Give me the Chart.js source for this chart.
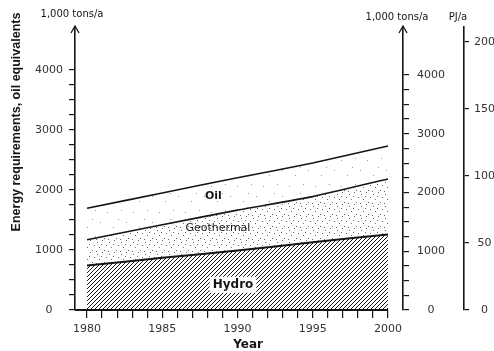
<!DOCTYPE html>
<html>
<head>
<meta charset="utf-8">
<script src="https://cdn.jsdelivr.net/npm/chart.js@4"></script>
<style>
  html, body { margin: 0; padding: 0; background: #fff; }
  #wrap { width: 494px; height: 351px; position: relative; }
</style>
</head>
<body>
<div id="wrap"><canvas id="energyChart"></canvas></div>
<script>
// values (upper edge of each band, 1,000 tons/a)
const years = [1980, 1985, 1990, 1995, 2000];
const hydroTop = [740, 870, 990, 1130, 1260];
const geothermalTop = [1170, 1420, 1665, 1890, 2185];
const oilTop = [1695, 1950, 2205, 2450, 2735];

const tonsLabels = [0, 1000, 2000, 3000, 4000];
const pjLabels = [0, 50, 100, 150, 200];
const yearLabels = [1980, 1985, 1990, 1995, 2000];

const FONT = '"DejaVu Sans", sans-serif';
const INK = '#151515';

function toPoints(values) {
    return years.map((yr, i) => ({ x: yr, y: values[i] }));
}

// diagonal hatching for hydro
function makeHatch() {
    const c = document.createElement('canvas');
    c.width = 4; c.height = 4;
    const g = c.getContext('2d');
    g.fillStyle = '#fff';
    g.fillRect(0, 0, 4, 4);
    g.strokeStyle = '#1a1a1a';
    g.lineWidth = 1;
    g.beginPath();
    g.moveTo(0, 4); g.lineTo(4, 0);
    g.moveTo(-1, 1); g.lineTo(1, -1);
    g.moveTo(3, 5); g.lineTo(5, 3);
    g.stroke();
    return g.createPattern(c, 'repeat');
}

// stipple for the geothermal / oil bands
function makeDots(size, dots, color) {
    const c = document.createElement('canvas');
    c.width = size; c.height = size;
    const g = c.getContext('2d');
    g.fillStyle = '#fff';
    g.fillRect(0, 0, size, size);
    g.fillStyle = color;
    dots.forEach(([x, y]) => g.fillRect(x, y, 1, 1));
    return g.createPattern(c, 'repeat');
}

const hatch = makeHatch();
const geoDots = makeDots(12, [[1, 2], [6, 0], [10, 5], [3, 7], [8, 10], [0, 11], [5, 4]], '#666');
const oilDots = makeDots(26, [[3, 4], [17, 2], [22, 14], [9, 19], [14, 11]], '#999');

function stepTicks(from, to, step) {
    const out = [];
    for (let v = from; v <= to; v += step) out.push({ value: v });
    return out;
}

const annotations = {
    id: 'annotations',
    afterDraw(chart) {
        const { ctx, scales } = chart;
        const x = scales.x, y = scales.y, yT = scales.yTons, yP = scales.yPJ;
        ctx.save();
        ctx.strokeStyle = INK;
        ctx.fillStyle = INK;

        // baseline from the left axis to 2000
        ctx.lineWidth = 1.8;
        ctx.beginPath();
        ctx.moveTo(y.right, y.getPixelForValue(0));
        ctx.lineTo(x.getPixelForValue(2000), y.getPixelForValue(0));
        ctx.stroke();

        // arrow heads on the two tons axes
        ctx.lineWidth = 1.3;
        [y.right, yT.left].forEach(ax => {
            const top = chart.chartArea.top - 1;
            ctx.beginPath();
            ctx.moveTo(ax - 4, top + 7);
            ctx.lineTo(ax, top);
            ctx.lineTo(ax + 4, top + 7);
            ctx.stroke();
        });

        // band labels
        ctx.textBaseline = 'middle';
        ctx.textAlign = 'center';
        ctx.font = 'bold 11px ' + FONT;
        ctx.fillText('Oil', x.getPixelForValue(1988.4), y.getPixelForValue(1900));
        ctx.font = '11px ' + FONT;
        ctx.fillText('Geothermal', x.getPixelForValue(1988.7), y.getPixelForValue(1370));
        const hx = x.getPixelForValue(1989.7), hy = y.getPixelForValue(420);
        ctx.font = 'bold 12px ' + FONT;
        const hw = ctx.measureText('Hydro').width;
        ctx.fillStyle = '#fff';
        ctx.fillRect(hx - hw / 2 - 3, hy - 8, hw + 6, 16);
        ctx.fillStyle = INK;
        ctx.fillText('Hydro', hx, hy);

        // x title
        ctx.font = 'bold 12px ' + FONT;
        ctx.fillText('Year', x.getPixelForValue(1990.7), 345);

        // unit captions
        ctx.font = '10px ' + FONT;
        ctx.fillText('1,000 tons/a', y.right - 3, 14);
        ctx.fillText('1,000 tons/a', yT.left - 6, 17);
        ctx.fillText('PJ/a', yP.left - 6, 17);

        // y title
        ctx.font = 'bold 12.5px "Liberation Sans", sans-serif';
        ctx.translate(17, 122);
        ctx.rotate(-Math.PI / 2);
        ctx.fillText('Energy requirements, oil equivalents', 0, 0);
        ctx.restore();
    }
};

const tickFont = { family: FONT, size: 11 };

new Chart(document.getElementById('energyChart'), {
    type: 'line',
    data: {
        datasets: [
            {
                label: 'Hydro',
                data: toPoints(hydroTop),
                borderColor: INK,
                borderWidth: 2,
                backgroundColor: hatch,
                fill: 'origin',
                tension: 0.2,
                pointRadius: 0
            },
            {
                label: 'Geothermal',
                data: toPoints(geothermalTop),
                borderColor: INK,
                borderWidth: 1.6,
                backgroundColor: geoDots,
                fill: '-1',
                tension: 0.2,
                pointRadius: 0
            },
            {
                label: 'Oil',
                data: toPoints(oilTop),
                borderColor: INK,
                borderWidth: 1.6,
                backgroundColor: oilDots,
                fill: '-1',
                tension: 0.2,
                pointRadius: 0
            }
        ]
    },
    options: {
        responsive: true,
        maintainAspectRatio: false,
        animation: false,
        layout: { padding: { top: 27, left: 0, right: 0, bottom: 0 } },
        plugins: {
            legend: { display: false },
            tooltip: { enabled: false }
        },
        scales: {
            x: {
                type: 'linear',
                position: 'bottom',
                min: 1979.2,
                max: 2001,
                afterBuildTicks: s => { s.ticks = stepTicks(1980, 2000, 1); },
                afterFit: s => { s.height = 41; },
                ticks: {
                    autoSkip: false,
                    maxRotation: 0,
                    padding: 5,
                    color: '#333',
                    font: tickFont,
                    callback: v => yearLabels.includes(v) ? String(v) : ''
                },
                grid: { drawOnChartArea: false, tickLength: 8, color: INK, lineWidth: 1.2 },
                border: { display: false }
            },
            y: {
                position: 'left',
                min: 0,
                max: 4717,
                afterBuildTicks: s => { s.ticks = stepTicks(0, 4000, 250); },
                afterFit: s => { s.width = 75; },
                ticks: {
                    autoSkip: false,
                    crossAlign: 'center',
                    padding: 6,
                    color: '#333',
                    font: tickFont,
                    callback: v => tonsLabels.includes(v) ? String(v) : ''
                },
                grid: { drawOnChartArea: false, tickLength: 6, color: INK, lineWidth: 1.2 },
                border: { display: true, color: INK, width: 1.6 }
            },
            yTons: {
                position: 'right',
                weight: 0,
                min: 0,
                max: 4817,
                afterBuildTicks: s => { s.ticks = stepTicks(0, 4000, 250); },
                afterFit: s => { s.width = 61; },
                ticks: {
                    autoSkip: false,
                    crossAlign: 'center',
                    padding: 8,
                    color: '#333',
                    font: tickFont,
                    callback: v => tonsLabels.includes(v) ? String(v) : ''
                },
                grid: { drawOnChartArea: false, tickLength: 6, color: INK, lineWidth: 1.2 },
                border: { display: true, color: INK, width: 1.6 }
            },
            yPJ: {
                position: 'right',
                weight: 1,
                min: 0,
                max: 211,
                afterBuildTicks: s => { s.ticks = pjLabels.map(v => ({ value: v })); },
                afterFit: s => { s.width = 30; },
                ticks: {
                    autoSkip: false,
                    crossAlign: 'center',
                    padding: 5,
                    color: '#333',
                    font: tickFont,
                    callback: v => String(v)
                },
                grid: { drawOnChartArea: false, tickLength: 5, color: INK, lineWidth: 1.2 },
                border: { display: true, color: INK, width: 1.6 }
            }
        }
    },
    plugins: [annotations]
});
</script>
</body>
</html>
